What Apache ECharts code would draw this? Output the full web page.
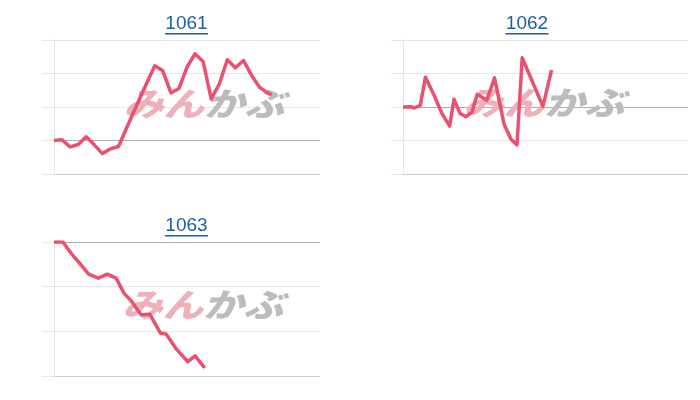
<!DOCTYPE html>
<html>
<head>
<meta charset="utf-8">
<script src="https://cdn.jsdelivr.net/npm/echarts@6/dist/echarts.min.js"></script>
<style>html,body{margin:0;padding:0;background:#fff}#c{width:700px;height:400px}</style>
</head>
<body>
<div id="c"></div>
<script>
// Chart titles (stock codes)
const titles = ['1061', '1062', '1063'];
// Trading minutes since open (x) and change from opening price (y), one pair of arrays per chart
const t1061 = [0, 10, 20, 30, 40, 50, 60, 70, 80, 95, 110, 125, 135, 145, 155, 165, 175, 185, 195, 205, 215, 225, 235, 245, 255, 265, 270];
const v1061 = [0, 0.02, -0.19, -0.12, 0.11, -0.13, -0.39, -0.25, -0.18, 0.64, 1.45, 2.23, 2.08, 1.42, 1.55, 2.19, 2.59, 2.36, 1.24, 1.68, 2.41, 2.17, 2.39, 1.95, 1.59, 1.42, 1.37];
const t1062 = [0, 9, 13, 20, 26, 36, 45, 54, 59, 66, 73, 80, 86, 97, 106, 117, 125, 132, 138, 162, 172];
const v1062 = [0, 0.01, -0.03, 0.05, 0.89, 0.35, -0.19, -0.57, 0.23, -0.19, -0.29, -0.15, 0.38, 0.20, 0.87, -0.51, -0.96, -1.13, 1.47, 0.02, 1.10];
const t1063 = [0, 11, 22, 32, 43, 55, 66, 77, 87, 96, 108, 119, 132, 139, 152, 166, 175, 187];
const v1063 = [0, 0, -0.27, -0.48, -0.72, -0.81, -0.72, -0.81, -1.15, -1.32, -1.63, -1.62, -2.04, -2.06, -2.40, -2.68, -2.55, -2.82];
// Y axis ranges (tick step 1)
const yMin = [-1, -2, -3];
const yMax = [3, 2, 0];
const sessionMinutes = 330;

const grids = [
  {left: 54, right: 380, top: 40, height: 134},
  {left: 403, right: 12, top: 40, height: 134},
  {left: 54, right: 380, top: 242, height: 134}
];
const titlePos = [[186.5, 24, 33], [527, 24, 33], [186.5, 226, 235]];
const markPos = [[204, 104], [544, 103], [203, 305]];
const seriesData = [
  t1061.map((t, i) => [t, v1061[i]]),
  t1062.map((t, i) => [t, v1062[i]]),
  t1063.map((t, i) => [t, v1063[i]])
];

const LIGHT = '#e6e6e6', BOTTOM = '#cccccc', BASE = '#acacac';
function splitColors(k) {
  const arr = [];
  for (let v = yMin[k]; v <= yMax[k]; v++) {
    arr.push(v === yMin[k] ? BOTTOM : (v === 0 ? BASE : LIGHT));
  }
  return arr;
}

const graphic = [];
titles.forEach((t, k) => {
  const [cx, cy, uy] = titlePos[k];
  graphic.push({
    type: 'text', x: cx, y: cy, z: 5,
    style: {text: t, fill: '#1d5fa7', font: '19px "Liberation Sans", Arial, sans-serif', align: 'center', verticalAlign: 'middle'}
  });
  graphic.push({
    type: 'rect', shape: {x: cx - 21.5, y: uy, width: 43, height: 1.5}, z: 5,
    style: {fill: '#1d5fa7'}
  });
  const [mx, my] = markPos[k];
  graphic.push({
    type: 'text', x: mx, y: my, scaleX: 1.3, scaleY: 1.05, z: 1,
    style: {
      text: '{a|みん}{b|かぶ}', align: 'center', verticalAlign: 'middle',
      rich: {
        a: {fill: '#efb1b9', font: 'italic 900 31px "Noto Sans CJK JP", sans-serif'},
        b: {fill: '#bcbcbc', font: 'italic 900 31px "Noto Sans CJK JP", sans-serif'}
      }
    }
  });
});

const option = {
  animation: false,
  backgroundColor: '#fff',
  grid: grids,
  xAxis: grids.map((g, k) => ({
    type: 'value', gridIndex: k, min: 0, max: sessionMinutes,
    axisLine: {show: false}, axisTick: {show: false}, axisLabel: {show: false}, splitLine: {show: false}
  })),
  yAxis: grids.map((g, k) => ({
    type: 'value', gridIndex: k, min: yMin[k], max: yMax[k], interval: 1,
    axisLine: {show: true, lineStyle: {color: LIGHT, width: 1}},
    axisTick: {show: true, length: 12, lineStyle: {color: LIGHT}},
    axisLabel: {show: false},
    splitLine: {show: true, lineStyle: {color: splitColors(k), width: 1}}
  })),
  series: seriesData.map((d, k) => ({
    type: 'line', xAxisIndex: k, yAxisIndex: k, data: d,
    showSymbol: false, symbol: 'none', silent: true,
    lineStyle: {color: '#ea5070', width: 3.5, join: 'round'}
  })),
  graphic: graphic
};

const chart = echarts.init(document.getElementById('c'), null, {renderer: 'canvas'});
chart.setOption(option);
</script>
</body>
</html>
